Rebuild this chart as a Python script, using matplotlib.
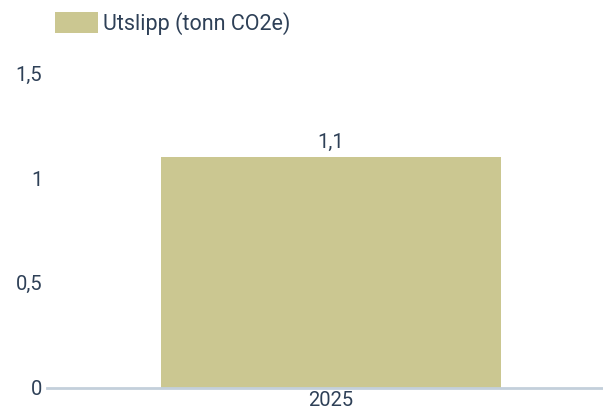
import matplotlib
matplotlib.use("Agg")
import matplotlib.pyplot as plt
from matplotlib.patches import Patch

categories = ["2025"]
values = [1.1]
value_labels = ["1,1"]
yticks = [0, 0.5, 1, 1.5]
ytick_labels = ["0", "0,5", "1", "1,5"]
series_name = "Utslipp (tonn CO2e)"

bar_color = "#cbc791"
text_color = "#2e4057"
axis_color = "#c3cfdb"

plt.rcParams["font.family"] = ["Roboto", "DejaVu Sans"]

W, H = 603, 409
fig = plt.figure(figsize=(W/100, H/100), dpi=100)
ax = fig.add_axes([47/W, 1-387.5/H, 1-47/W, (387.5-73.5)/H])

x = list(range(len(categories)))
ax.bar(x, values, width=0.6, color=bar_color, zorder=2)
for xi, v, lab in zip(x, values, value_labels):
    ax.annotate(lab, (xi, v), xytext=(0, 4), textcoords="offset points",
                ha="center", va="bottom", fontsize=14.5, color=text_color)

ax.set_xlim(-0.5012, 0.48)
ax.set_ylim(0, 1.5)
ax.set_yticks(yticks)
ax.set_yticklabels(ytick_labels, fontsize=14.5, color=text_color)
ax.set_xticks(x)
ax.set_xticklabels(categories, fontsize=14.5, color=text_color)
ax.tick_params(axis="y", length=0, pad=3.4)
ax.tick_params(axis="x", length=0, pad=2.2)
for s in ["top", "right", "left"]:
    ax.spines[s].set_visible(False)
ax.spines["bottom"].set_color(axis_color)
ax.spines["bottom"].set_linewidth(2)
ax.spines["bottom"].set_zorder(3)

handle = Patch(facecolor=bar_color, edgecolor="none")
fig.legend([handle], [series_name], loc="upper left",
           bbox_to_anchor=(55/W, 1-12/H), frameon=False, fontsize=15.5,
           handlelength=2.0, handleheight=1.12, handletextpad=0.24,
           labelcolor=text_color, borderaxespad=0, borderpad=0)

fig.savefig("out.png", dpi=100)
